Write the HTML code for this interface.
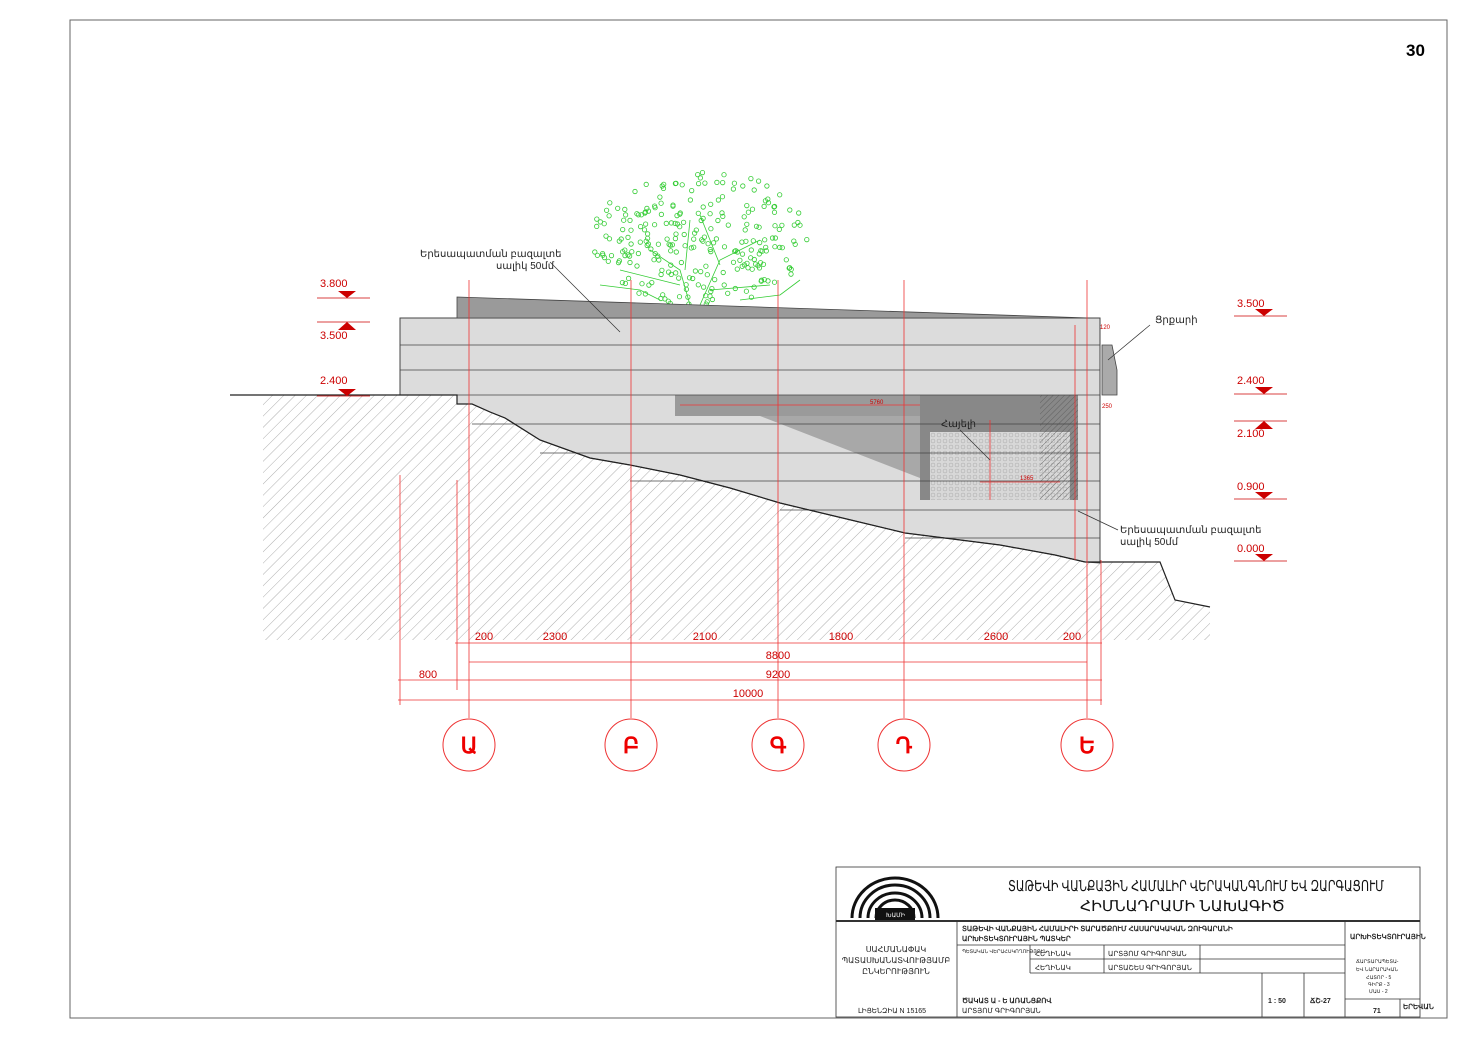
<!DOCTYPE html>
<html><head><meta charset="utf-8"><style>
html,body{margin:0;padding:0;background:#fff}
svg{display:block}
text{font-family:"Liberation Sans",sans-serif}
</style></head><body>
<svg id="s" width="1470" height="1039" viewBox="0 0 1470 1039" xmlns="http://www.w3.org/2000/svg">
<defs>
<pattern id="h" width="8" height="8" patternUnits="userSpaceOnUse" patternTransform="rotate(45)">
<line x1="0" y1="0" x2="0" y2="8" stroke="#999" stroke-width="0.8"/></pattern>
<pattern id="hd" width="4" height="4" patternUnits="userSpaceOnUse" patternTransform="rotate(45)">
<line x1="0" y1="0" x2="0" y2="4" stroke="#555" stroke-width="0.8"/></pattern>
<pattern id="tx" width="6" height="6" patternUnits="userSpaceOnUse">
<rect width="6" height="6" fill="#d8d8d8"/><circle cx="3" cy="3" r="2" fill="none" stroke="#aaa" stroke-width="0.5"/></pattern>
</defs>
<rect x="70" y="20" width="1377" height="998" fill="#fff" stroke="#666" stroke-width="1"/>
<text x="1406" y="56" font-size="17" font-weight="bold">30</text>

<g id="tree" fill="none" stroke="#3c3" stroke-width="0.8"></g>

<polygon points="263,395 457,395 457,404 472,404 490,412 505,418 540,440 590,458 630,465 680,475 730,488 780,503 830,515 905,533 1000,545 1055,555 1085,562 1160,562 1175,600 1210,607 1210,640 263,640" fill="url(#h)"/>

<polygon points="400,318 1100,318 1100,563 1085,562 1055,555 1000,545 905,533 830,515 780,503 730,488 680,475 630,465 590,458 540,440 505,418 490,412 472,404 457,404 457,395 400,395" fill="#dcdcdc" stroke="#444" stroke-width="1"/>
<polygon points="457,297 1090,318 457,318" fill="#9a9a9a" stroke="#444" stroke-width="0.8"/>
<polygon points="1102,345 1112,345 1117,370 1117,395 1102,395" fill="#aaa" stroke="#444" stroke-width="0.8"/>
<rect x="675" y="395" width="403" height="21" fill="#9a9a9a"/>
<polygon points="760,416 920,416 920,478" fill="#a8a8a8"/>
<rect x="920" y="395" width="158" height="105" fill="#888"/>
<rect x="930" y="432" width="140" height="68" fill="url(#tx)"/>
<rect x="1040" y="395" width="38" height="105" fill="url(#hd)"/>
<g stroke="#444" stroke-width="0.8">
<line x1="400" y1="345" x2="1100" y2="345"/><line x1="400" y1="370" x2="1100" y2="370"/>
<line x1="230" y1="395" x2="1100" y2="395"/><line x1="472" y1="424" x2="1100" y2="424"/>
<line x1="540" y1="453" x2="1100" y2="453"/><line x1="630" y1="481" x2="1100" y2="481"/>
<line x1="780" y1="510" x2="1100" y2="510"/><line x1="905" y1="538" x2="1100" y2="538"/>
</g>
<polyline points="230,395 457,395 457,404 472,404 490,412 505,418 540,440 590,458 630,465 680,475 730,488 780,503 830,515 905,533 1000,545 1055,555 1085,562 1160,562 1175,600 1210,607" fill="none" stroke="#222" stroke-width="1.2"/>

<g stroke="#e33" stroke-width="0.8">
<line x1="400" y1="475" x2="400" y2="705"/><line x1="457" y1="480" x2="457" y2="690"/>
<line x1="469" y1="280" x2="469" y2="718"/><line x1="631" y1="280" x2="631" y2="718"/>
<line x1="778" y1="280" x2="778" y2="718"/><line x1="904" y1="280" x2="904" y2="718"/>
<line x1="1087" y1="280" x2="1087" y2="718"/><line x1="1101" y1="560" x2="1101" y2="705"/>
<line x1="455" y1="643" x2="1102" y2="643"/><line x1="469" y1="662" x2="1087" y2="662"/>
<line x1="398" y1="680" x2="1102" y2="680"/><line x1="398" y1="700" x2="1102" y2="700"/>
<line x1="1075" y1="325" x2="1075" y2="560"/>
<line x1="680" y1="405" x2="920" y2="405"/>
<line x1="990" y1="420" x2="990" y2="500"/><line x1="980" y1="482" x2="1060" y2="482"/>
</g>
<g fill="none" stroke="#e33" stroke-width="1">
<circle cx="469" cy="745" r="26"/><circle cx="631" cy="745" r="26"/><circle cx="778" cy="745" r="26"/><circle cx="904" cy="745" r="26"/><circle cx="1087" cy="745" r="26"/>
</g>
<g fill="#e00" font-size="22" font-weight="bold" text-anchor="middle">
<text x="469" y="753">Ա</text><text x="631" y="753">Բ</text><text x="778" y="753">Գ</text><text x="904" y="753">Դ</text><text x="1087" y="753">Ե</text>
</g>
<g fill="#c00" font-size="11" text-anchor="middle">
<text x="484" y="640">200</text><text x="555" y="640">2300</text><text x="705" y="640">2100</text><text x="841" y="640">1800</text><text x="996" y="640">2600</text><text x="1072" y="640">200</text>
<text x="778" y="659">8800</text><text x="778" y="678">9200</text><text x="428" y="678">800</text><text x="748" y="697">10000</text>
</g>
<g fill="#c00" font-size="6">
<text x="870" y="404">5760</text><text x="1020" y="480">1365</text>
<text x="1100" y="329">120</text><text x="1102" y="408">250</text>
</g>
<g id="lv" fill="#c00" font-size="11"></g>

<g font-size="10" fill="#222">
<text x="420" y="257">Երեսապատման բազալտե</text><text x="496" y="269">սալիկ 50մմ</text>
<text x="1155" y="323">Ցրքարի</text>
<text x="941" y="427">Հայելի</text>
<text x="1120" y="533">Երեսապատման բազալտե</text><text x="1120" y="545">սալիկ 50մմ</text>
</g>
<g stroke="#333" stroke-width="0.7">
<line x1="550" y1="262" x2="620" y2="332"/><line x1="1150" y1="325" x2="1108" y2="360"/>
<line x1="960" y1="430" x2="990" y2="460"/><line x1="1118" y1="530" x2="1078" y2="511"/>
</g>

<g stroke="#333" stroke-width="0.8" fill="none">
<rect x="836" y="867" width="584" height="150"/>
<line x1="836" y1="921" x2="1420" y2="921" stroke-width="2"/>
<line x1="957" y1="921" x2="957" y2="1017"/><line x1="1345" y1="921" x2="1345" y2="1017"/>
<line x1="957" y1="945" x2="1345" y2="945"/><line x1="1030" y1="945" x2="1030" y2="973"/>
<line x1="1104" y1="945" x2="1104" y2="973"/><line x1="1200" y1="945" x2="1200" y2="973"/>
<line x1="1030" y1="959" x2="1345" y2="959"/><line x1="1030" y1="973" x2="1345" y2="973"/>
<line x1="1262" y1="973" x2="1262" y2="1017"/><line x1="1304" y1="973" x2="1304" y2="1017"/>
<line x1="1345" y1="999" x2="1420" y2="999"/><line x1="1400" y1="999" x2="1400" y2="1017"/>
</g>
<g fill="none" stroke="#111" stroke-width="3">
<path d="M852,918 A43,40 0 0 1 938,918"/><path d="M860,918 A35,33 0 0 1 930,918"/><path d="M868,918 A27,25 0 0 1 922,918"/>
<path d="M876,918 A19,18 0 0 1 914,918"/>
</g>
<rect x="875" y="908" width="40" height="12" fill="#111"/>
<text x="886" y="917" font-size="6" fill="#fff">ԽԱՄԻ</text>
<g font-size="15" fill="#111">
<text x="1008" y="891" textLength="376" lengthAdjust="spacingAndGlyphs">ՏԱԹԵՎԻ ՎԱՆՔԱՅԻՆ ՀԱՄԱԼԻՐ ՎԵՐԱԿԱՆԳՆՈՒՄ ԵՎ ԶԱՐԳԱՑՈՒՄ</text>
<text x="1080" y="911" textLength="205" lengthAdjust="spacingAndGlyphs">ՀԻՄՆԱԴՐԱՄԻ ՆԱԽԱԳԻԾ</text></g>
<g font-size="7" fill="#222">
<text x="962" y="931" font-weight="bold">ՏԱԹԵՎԻ ՎԱՆՔԱՅԻՆ ՀԱՄԱԼԻՐԻ ՏԱՐԱԾՔՈՒՄ ՀԱՍԱՐԱԿԱԿԱՆ ԶՈՒԳԱՐԱՆԻ</text>
<text x="962" y="941" font-weight="bold">ԱՐԽԻՏԵԿՏՈՒՐԱՅԻՆ ՊԱՏԿԵՐ</text>
<text x="1035" y="956">ՀԵՂԻՆԱԿ</text><text x="1108" y="956">ԱՐՏՅՈՄ ԳՐԻԳՈՐՅԱՆ</text>
<text x="1035" y="970">ՀԵՂԻՆԱԿ</text><text x="1108" y="970">ԱՐՏԱՇԵՍ ԳՐԻԳՈՐՅԱՆ</text>
<text x="962" y="1003" font-weight="bold">ԾԱԿԱՏ Ա - Ե ԱՌԱՆՑՔՈՎ</text>
<text x="1268" y="1003" font-weight="bold">1 : 50</text><text x="1310" y="1003" font-weight="bold">ՃՇ-27</text>
<text x="1350" y="939" font-weight="bold">ԱՐԽԻՏԵԿՏՈՒՐԱՅԻՆ</text>
<text x="1373" y="1013" font-weight="bold">71</text><text x="1403" y="1009" font-weight="bold">ԵՐԵՎԱՆ</text>
<text x="962" y="1013">ԱՐՏՅՈՄ ԳՐԻԳՈՐՅԱՆ</text>
<text x="858" y="1013">ԼԻՑԵՆԶԻԱ N 15165</text>
<text x="962" y="953" font-size="5">ՊԵՏԱԿԱՆ ՎԵՐԱՀՍԿՈՂՈՒԹՅՈՒՆ</text>
<text x="1356" y="963" font-size="5">ՃԱՐՏԱՐԱՊԵՏԱ-</text><text x="1356" y="971" font-size="5">ԵՎ ՆԱՐԱՐԱԿԱՆ</text>
<text x="1366" y="979" font-size="5">ՀԱՏՈՐ - 5</text><text x="1368" y="986" font-size="5">ԳԻՐՔ - 3</text><text x="1369" y="993" font-size="5">ՄԱՍ - 2</text>
</g>
<g font-size="8" fill="#222" text-anchor="middle">
<text x="896" y="952">ՍԱՀՄԱՆԱՓԱԿ</text><text x="896" y="963">ՊԱՏԱՍԽԱՆԱՏՎՈՒԹՅԱՄԲ</text><text x="896" y="974">ԸՆԿԵՐՈՒԹՅՈՒՆ</text>
</g>
</svg>
<script>
var ns="http://www.w3.org/2000/svg",t=document.getElementById("tree");
var seed=7;function r(){seed=(seed*9301+49297)%233280;return seed/233280;}
for(var i=0;i<260;i++){var a=r()*Math.PI*2,d=Math.sqrt(r());var x=700+Math.cos(a)*d*108,y=238+Math.sin(a)*d*68;if(y>305)continue;
var c=document.createElementNS(ns,"circle");c.setAttribute("cx",x.toFixed(1));c.setAttribute("cy",y.toFixed(1));c.setAttribute("r",2.2);t.appendChild(c);}
var br=["M690,305 L680,270 L650,250","M700,305 L720,260 L760,240","M680,285 L620,270","M710,290 L770,285","M685,270 L690,220","M720,265 L700,215","M660,300 L640,290 L600,285","M740,300 L780,295 L800,280"];
br.forEach(function(p){var e=document.createElementNS(ns,"path");e.setAttribute("d",p);t.appendChild(e);});
var lv=document.getElementById("lv");
function L(x,ty,ay,txt,up){var g='<text x="'+x+'" y="'+ty+'">'+txt+'</text><line x1="'+(x-3)+'" y1="'+ay+'" x2="'+(x+50)+'" y2="'+ay+'" stroke="#c00" stroke-width="0.8"/>';
var cx=x+27;g+= up? '<polygon points="'+(cx-9)+','+(ay+8)+' '+(cx+9)+','+(ay+8)+' '+cx+','+ay+'" fill="#c00"/>':'<polygon points="'+(cx-9)+','+(ay-7)+' '+(cx+9)+','+(ay-7)+' '+cx+','+ay+'" fill="#c00"/>';
lv.insertAdjacentHTML("beforeend",g);}
L(320,287,298,"3.800");L(320,339,322,"3.500",1);L(320,384,396,"2.400");
L(1237,307,316,"3.500");L(1237,384,394,"2.400");L(1237,437,421,"2.100",1);L(1237,490,499,"0.900");L(1237,552,561,"0.000");
</script>
</body></html>
